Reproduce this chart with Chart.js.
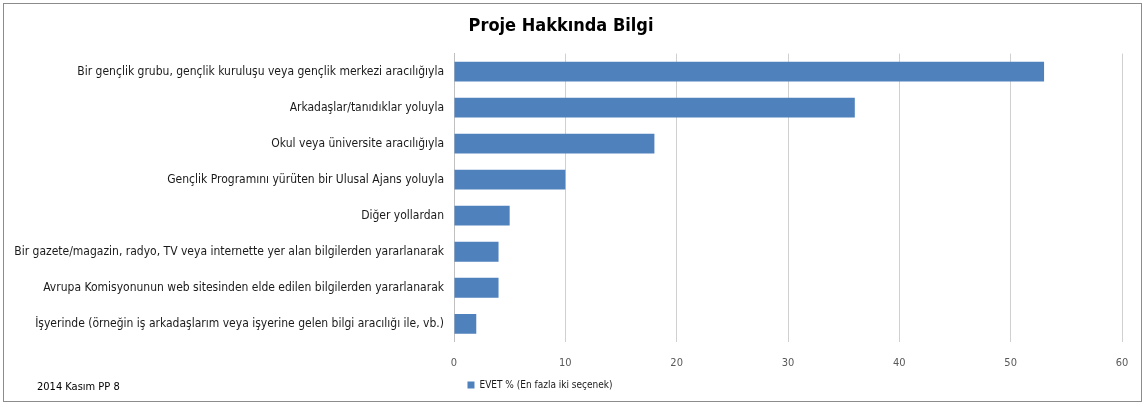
<!DOCTYPE html>
<html>
<head>
<meta charset="utf-8">
<script src="https://cdn.jsdelivr.net/npm/chart.js@4"></script>
<style>
  html, body { margin: 0; padding: 0; background: #fff; }
  #wrap { width: 1146px; height: 407px; position: relative; }
</style>
</head>
<body>
<div id="wrap"><canvas id="chart"></canvas></div>
<script>
const categories = [
    'Bir gençlik grubu, gençlik kuruluşu veya gençlik merkezi aracılığıyla',
    'Arkadaşlar/tanıdıklar yoluyla',
    'Okul veya üniversite aracılığıyla',
    'Gençlik Programını yürüten bir Ulusal Ajans yoluyla',
    'Diğer yollardan',
    'Bir gazete/magazin, radyo, TV veya internette yer alan bilgilerden yararlanarak',
    'Avrupa Komisyonunun web sitesinden elde edilen bilgilerden yararlanarak',
    'İşyerinde (örneğin iş arkadaşlarım veya işyerine gelen bilgi aracılığı ile, vb.)'
];
const evetValues = [53, 36, 18, 10, 5, 4, 4, 2];
const seriesLabel = 'EVET % (En fazla iki seçenek)';
const titleText = 'Proje Hakkında Bilgi';
const footnote = '2014 Kasım PP 8';

const fontFamily = '"Liberation Sans Narrow", "DejaVu Sans Condensed", "Liberation Sans", sans-serif';

// frame + footnote
const framePlugin = {
    id: 'frame',
    afterLayout(chart) {
        // Excel puts the legend a bit left of centre and tight under the axis
        const lg = chart.legend;
        lg.left -= 21;
        lg.right -= 21;
        lg.top -= 7;
        lg.bottom -= 7;
    },
    afterDraw(chart) {
        const c = chart.ctx;
        c.save();
        c.strokeStyle = '#8c8c8c';
        c.lineWidth = 1;
        c.strokeRect(3.5, 3.5, 1138, 398);
        c.fillStyle = '#000';
        c.font = '11px ' + fontFamily;
        c.textBaseline = 'middle';
        c.fillText(footnote, 37, 387);
        c.restore();
    }
};

const ctx = document.getElementById('chart').getContext('2d');
new Chart(ctx, {
    type: 'bar',
    data: {
        labels: categories,
        datasets: [{
            label: seriesLabel,
            data: evetValues,
            backgroundColor: '#4f81bd',
            borderWidth: 0,
            categoryPercentage: 1,
            barPercentage: 0.55
        }]
    },
    options: {
        indexAxis: 'y',
        responsive: true,
        maintainAspectRatio: false,
        animation: false,
        layout: { padding: { left: 0, right: 24, top: 0, bottom: 0 } },
        scales: {
            x: {
                min: 0,
                max: 60,
                ticks: { stepSize: 10, padding: 15, color: '#595959', font: { family: fontFamily, size: 11 } },
                grid: { color: '#d0d0d0', drawTicks: false },
                border: { display: false }
            },
            y: {
                afterFit(scale) { scale.width = 454; },
                ticks: { padding: 10, color: '#1a1a1a', font: { family: fontFamily, size: 12 } },
                grid: { display: false, drawTicks: false },
                border: { display: true, color: '#c0c0c0' }
            }
        },
        plugins: {
            title: {
                display: true,
                text: titleText,
                color: '#000',
                font: { family: fontFamily, size: 18, weight: 'bold' },
                padding: { top: 16, bottom: 16 }
            },
            legend: {
                position: 'bottom',
                labels: {
                    boxWidth: 7,
                    boxHeight: 7,
                    padding: 2,
                    color: '#1a1a1a',
                    font: { family: fontFamily, size: 10 }
                }
            },
            tooltip: { enabled: true }
        }
    },
    plugins: [framePlugin]
});
</script>
</body>
</html>
